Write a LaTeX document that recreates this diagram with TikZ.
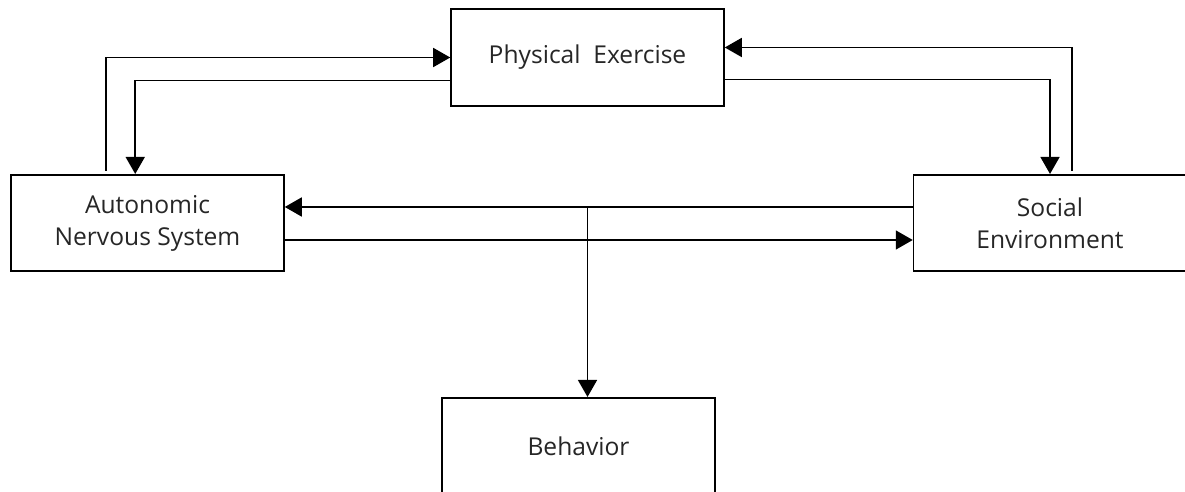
\documentclass[tikz,border=0pt]{standalone}
\usepackage{fontspec}
\setmainfont{Open Sans}
\usetikzlibrary{arrows.meta,calc}
\begin{document}
\begin{tikzpicture}[x=.02cm,y=.02cm,
    box/.style={draw,line width=.9pt,minimum width=5.46cm,minimum height=1.93cm,
        inner sep=0pt,align=center,text=black!85,font=\fontsize{14}{18.2}\selectfont},
    arr/.style={line width=.9pt,-{Triangle[length=.34cm,width=.38cm]}}]
\clip (0,0) rectangle (1185,492);
\node (pe) [box] at (587.5,434.5) {Physical\ \ Exercise};
\node (ans) [box] at (147.5,269) {Autonomic\\Nervous System};
\node (se) [box] at (1050,269) {Social\\Environment};
\node (beh) [box] at (578.5,46) {Behavior};
\path (se.west) ++(0,16) coordinate (upper);
\path (ans.east) ++(0,-17) coordinate (lower);
\coordinate (split) at (upper -| pe.south);
\draw[arr] (ans.north west) ++(96,3) |- (pe.west);
\draw[arr] (pe.west) ++(0,-23) -| ($(ans.north west)+(125,0)$);
\draw[arr] (se.north west) ++(159,3) |- ($(pe.east)+(0,10)$);
\draw[arr] (pe.east) ++(0,-22) -| (se.north);
\draw[arr] (upper) -- (upper -| ans.east);
\draw[arr] (lower) -- (lower -| se.west);
\draw[arr] (split) -- (split |- beh.north);
\end{tikzpicture}
\end{document}
